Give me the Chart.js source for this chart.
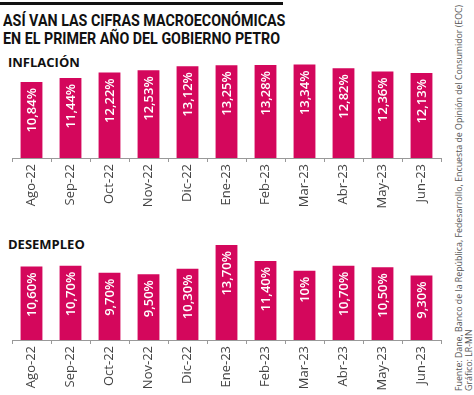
<!DOCTYPE html>
<html>
<head>
<meta charset="utf-8">
<script src="https://cdn.jsdelivr.net/npm/chart.js@4.4.0/dist/chart.umd.min.js"></script>
<style>
  body { margin: 0; background: #fff; width: 474px; height: 395px; overflow: hidden; position: relative; font-family: "Open Sans", sans-serif; }
  .rule { position: absolute; left: 0; top: 2px; width: 283px; height: 3px; background: #111; }
  .title { position: absolute; left: 3px; font: bold 17px Roboto, sans-serif; color: #111; white-space: nowrap; transform-origin: left top; transform: scaleX(0.84); line-height: 18px; }
  .sub { position: absolute; left: 8px; font: bold 13px "Open Sans", sans-serif; color: #111; white-space: nowrap; }
  .src { position: absolute; left: 455px; top: 391px; transform-origin: left top; transform: rotate(-90deg); font: 8.8px "Open Sans", sans-serif; color: #555; line-height: 9.5px; white-space: nowrap; }
  canvas { position: absolute; left: 0; }
</style>
</head>
<body>
<div class="rule"></div>
<div class="title" style="top:11px">ASÍ VAN LAS CIFRAS MACROECONÓMICAS</div>
<div class="title" style="top:29px">EN EL PRIMER AÑO DEL GOBIERNO PETRO</div>
<div class="sub" style="top:53px">INFLACIÓN</div>
<div class="sub" style="top:235px">DESEMPLEO</div>
<div class="src">Fuente: Dane, Banco de la República, Fedesarrollo, Encuesta de Opinión del Consumidor (EOC)<br>Gráfico: LR-MN</div>
<canvas id="inflChart" width="450" height="153" style="top:60px"></canvas>
<canvas id="desChart" width="450" height="152" style="top:243px"></canvas>
<script>
const meses = ['Ago-22', 'Sep-22', 'Oct-22', 'Nov-22', 'Dic-22', 'Ene-23', 'Feb-23', 'Mar-23', 'Abr-23', 'May-23', 'Jun-23'];
const inflacion = [10.84, 11.44, 12.22, 12.53, 13.12, 13.25, 13.28, 13.34, 12.82, 12.36, 12.13];
const inflacionTxt = ['10,84%', '11,44%', '12,22%', '12,53%', '13,12%', '13,25%', '13,28%', '13,34%', '12,82%', '12,36%', '12,13%'];
const desempleo = [10.6, 10.7, 9.7, 9.5, 10.3, 13.7, 11.4, 10.0, 10.7, 10.5, 9.3];
const desempleoTxt = ['10,60%', '10,70%', '9,70%', '9,50%', '10,30%', '13,70%', '11,40%', '10%', '10,70%', '10,50%', '9,30%'];

const magenta = '#d4075c';

// etiquetas blancas dentro de cada barra
const valueLabels = {
    id: 'valueLabels',
    afterDatasetsDraw(chart) {
        const ctx = chart.ctx;
        const txt = chart.options.plugins.valueLabels.labels;
        chart.getDatasetMeta(0).data.forEach((bar, i) => {
            ctx.save();
            ctx.translate(bar.x, bar.y + 6);
            ctx.rotate(-Math.PI / 2);
            ctx.font = '600 13px "Open Sans"';
            ctx.fillStyle = '#fff';
            ctx.textAlign = 'right';
            ctx.textBaseline = 'middle';
            ctx.fillText(txt[i], 0, 1);
            ctx.restore();
        });
    }
};

function makeChart(id, data, txt) {
    return new Chart(document.getElementById(id), {
        type: 'bar',
        data: {
            labels: meses,
            datasets: [{ data: data, backgroundColor: magenta, barPercentage: 0.56, categoryPercentage: 1 }]
        },
        plugins: [valueLabels],
        options: {
            responsive: false,
            animation: false,
            layout: { padding: { left: 12, right: 9, top: 0, bottom: 0 } },
            plugins: {
                legend: { display: false },
                tooltip: { enabled: false },
                valueLabels: { labels: txt }
            },
            scales: {
                x: {
                    border: { color: '#999', width: 1 },
                    grid: { drawOnChartArea: false, color: '#999', tickLength: 4, offset: true },
                    ticks: {
                        minRotation: 90, maxRotation: 90, autoSkip: false, padding: 2,
                        color: '#444', font: { family: 'Open Sans', size: 13 }
                    },
                    afterFit: s => { s.height = 55; }
                },
                y: { display: false, min: 0, max: 14 }
            }
        }
    });
}

makeChart('inflChart', inflacion, inflacionTxt);
makeChart('desChart', desempleo, desempleoTxt);
</script>
</body>
</html>
